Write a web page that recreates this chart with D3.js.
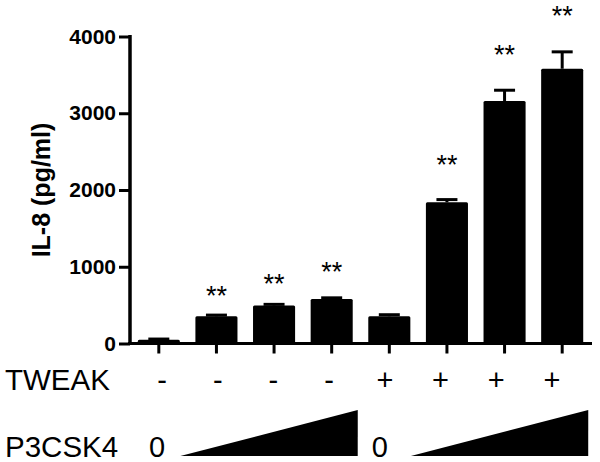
<!DOCTYPE html>
<html>
<head>
<meta charset="utf-8">
<script src="https://cdn.jsdelivr.net/npm/d3@7"></script>
<style>
  html, body { margin: 0; padding: 0; background: #fff; }
  svg { display: block; font-family: "Liberation Sans", Arial, sans-serif; }
</style>
</head>
<body>
<svg id="chart" width="600" height="462"></svg>
<script>
// ---- data ----
const groups = ["g1", "g2", "g3", "g4", "g5", "g6", "g7", "g8"];
const means = [50, 355, 495, 580, 355, 1840, 3160, 3580];
const errors = [8, 15, 15, 15, 20, 35, 140, 220];
const starLevels = [null, 690, 834, 1003, null, 2397, 3818, 4326];
const starLabel = "**";
const tweakSigns = ["-", "-", "-", "-", "+", "+", "+", "+"];
const yTicks = [0, 1000, 2000, 3000, 4000];
const yTitle = "IL-8 (pg/ml)";
const rowLabels = ["TWEAK", "P3CSK4"];
const zeroLabel = "0";

// ---- layout ----
const svg = d3.select("#chart");
const x = d3.scaleBand().domain(groups).range([130, 591]).paddingInner(0.27).paddingOuter(0.135);
const y = d3.scaleLinear().domain([0, 4000]).range([343.5, 36.5]);
const sx = d3.scalePoint().domain(groups).range([162, 552]);

// bars
svg.append("g").selectAll("rect").data(groups).join("rect")
  .attr("x", d => x(d))
  .attr("width", x.bandwidth())
  .attr("y", (d, i) => y(means[i]))
  .attr("height", (d, i) => y(0) - y(means[i]))
  .attr("rx", 1.5)
  .attr("fill", "#000");

// error bars
const eb = svg.append("g").attr("stroke", "#000").attr("stroke-width", 3);
groups.forEach((g, i) => {
  const cx = x(g) + x.bandwidth() / 2;
  eb.append("line").attr("x1", cx).attr("x2", cx).attr("y1", y(means[i])).attr("y2", y(means[i] + errors[i]));
  eb.append("line").attr("x1", cx - 10.5).attr("x2", cx + 10.5).attr("y1", y(means[i] + errors[i])).attr("y2", y(means[i] + errors[i]));
});

// stars
svg.append("g").selectAll("text").data(groups.filter((g, i) => starLevels[i] !== null)).join("text")
  .attr("x", d => x(d) + x.bandwidth() / 2)
  .attr("y", d => y(starLevels[groups.indexOf(d)]) + 14)
  .attr("text-anchor", "middle")
  .attr("font-size", 27)
  .attr("fill", "#000")
  .text(starLabel);

// y axis
const yAxis = svg.append("g").attr("transform", "translate(130,0)")
  .call(d3.axisLeft(y).tickValues(yTicks).tickSize(11).tickSizeOuter(0).tickPadding(3).tickFormat(d3.format("d")));
yAxis.select(".domain").attr("stroke-width", 3.5).attr("d", `M0,${y(4000) - 1.5}V${y(0) + 1.5}`);
yAxis.selectAll(".tick line").attr("stroke-width", 3);
yAxis.selectAll(".tick text").attr("font-size", 21).attr("font-weight", "bold").attr("fill", "#000")
  .attr("font-family", "'Liberation Sans', Arial, sans-serif");

// x axis
const xAxis = svg.append("g").attr("transform", `translate(0,${y(0)})`)
  .call(d3.axisBottom(x).tickSize(10).tickSizeOuter(0).tickFormat(""));
xAxis.select(".domain").attr("stroke-width", 3).attr("d", "M128,0H592");
xAxis.selectAll(".tick line").attr("stroke-width", 3);

// y title
svg.append("text")
  .attr("transform", "translate(50,190) rotate(-90)")
  .attr("text-anchor", "middle")
  .attr("font-size", 25)
  .attr("font-weight", "bold")
  .attr("fill", "#000")
  .text(yTitle);

// row labels
svg.append("text").attr("x", 5).attr("y", 390).attr("font-size", 29.5).attr("fill", "#000").text(rowLabels[0]);
svg.append("text").attr("x", 5).attr("y", 457).attr("font-size", 29.5).attr("fill", "#000").text(rowLabels[1]);

// tweak signs
svg.append("g").selectAll("text").data(groups).join("text")
  .attr("x", d => sx(d))
  .attr("y", 390)
  .attr("text-anchor", "middle")
  .attr("font-size", 29)
  .attr("fill", "#000")
  .text((d, i) => tweakSigns[i]);

// P3CSK4 zeros and ramps
[0, 4].forEach(i => {
  svg.append("text").attr("x", sx(groups[i]) - 5).attr("y", 457)
    .attr("text-anchor", "middle").attr("font-size", 29).attr("fill", "#000").text(zeroLabel);
  const x0 = x(groups[i + 1]) - 15;
  const x1 = x(groups[i + 3]) + x.bandwidth() + 5;
  svg.append("path")
    .attr("d", `M${x0},456L${x1},410L${x1},456Z`)
    .attr("fill", "#000");
});
</script>
</body>
</html>
